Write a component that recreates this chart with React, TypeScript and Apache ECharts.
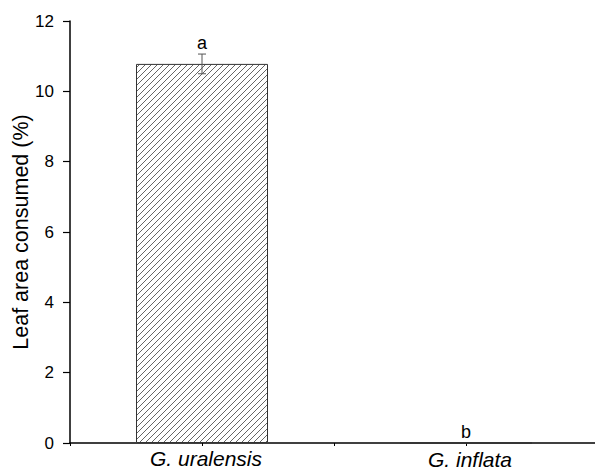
import React, { useEffect, useRef } from "react";
import * as echarts from "echarts";

const categories = ["G. uralensis", "G. inflata"];
const values = [10.78, 0];
const errors = [0.28, 0];
const letters = ["a", "b"];
const yTicks = { min: 0, max: 12, interval: 2 };

function makeHatch(): HTMLCanvasElement {
  const c = document.createElement("canvas");
  const s = 6;
  c.width = s;
  c.height = s;
  const ctx = c.getContext("2d")!;
  ctx.fillStyle = "#ffffff";
  ctx.fillRect(0, 0, s, s);
  ctx.strokeStyle = "#555555";
  ctx.lineWidth = 0.9;
  ctx.beginPath();
  ctx.moveTo(-1, s + 1);
  ctx.lineTo(s + 1, -1);
  ctx.moveTo(-1, 1);
  ctx.lineTo(1, -1);
  ctx.moveTo(s - 1, s + 1);
  ctx.lineTo(s + 1, s - 1);
  ctx.stroke();
  return c;
}

export default function App() {
  const ref = useRef<HTMLDivElement>(null);
  useEffect(() => {
    if (!ref.current) return;
    const chart = echarts.init(ref.current, null, { renderer: "svg" });
    const font = "Liberation Sans, Arial, sans-serif";
    chart.setOption({
      animation: false,
      backgroundColor: "#ffffff",
      grid: { left: 70, right: -3, top: 21, bottom: 29, containLabel: false, outerBoundsMode: "none" },
      xAxis: [
        {
          type: "category",
          data: categories,
          axisLine: { show: true, lineStyle: { color: "#000", width: 1.5 } },
          axisTick: { show: true, inside: false, length: 3, lineStyle: { color: "#000", width: 1 } },
          axisLabel: {
            margin: 4,
            fontFamily: font,
            formatter: (v: string, i: number) => (i === 0 ? `{a|${v}}` : `{b|${v}}`),
            rich: {
              a: { fontSize: 21, lineHeight: 22, fontStyle: "italic", color: "#000", fontFamily: font, padding: [0, 0, 0, 8] },
              b: { fontSize: 21, lineHeight: 22, fontStyle: "italic", color: "#000", fontFamily: font, padding: [3, 0, 0, 8] },
            },
          },
        },
        {
          type: "category",
          data: categories,
          position: "bottom",
          axisLine: { show: false },
          axisTick: { show: true, alignWithLabel: true, length: 3, lineStyle: { color: "#000", width: 1 } },
          axisLabel: { show: false },
        },
      ],
      yAxis: {
        type: "value",
        min: yTicks.min,
        max: yTicks.max,
        interval: yTicks.interval,
        name: "Leaf area consumed (%)",
        nameLocation: "middle",
        nameGap: 38,
        nameMoveOverlap: false,
        nameTextStyle: { fontSize: 21.5, color: "#000", fontFamily: font },
        axisLine: { show: true, lineStyle: { color: "#000", width: 1.5 } },
        axisTick: { show: true, length: 7, lineStyle: { color: "#000", width: 1.2 } },
        axisLabel: { fontSize: 17, color: "#000", margin: 16, fontFamily: font },
        splitLine: { show: false },
      },
      series: [
        {
          type: "bar",
          data: values,
          barWidth: "50%",
          itemStyle: {
            color: { image: makeHatch(), repeat: "repeat" },
            borderColor: "#333",
            borderWidth: 1,
          },
        },
        {
          type: "custom",
          data: values.map((v, i) => [i, v, errors[i]]),
          renderItem: (params: any, api: any) => {
            const i = api.value(0);
            const v = api.value(1);
            const e = api.value(2);
            if (!e) return { type: "group", children: [] };
            const top = api.coord([i, v + e]);
            const bot = api.coord([i, v - e]);
            const hw = 4;
            const st = { stroke: "#555", lineWidth: 1 };
            return {
              type: "group",
              children: [
                { type: "line", shape: { x1: top[0], y1: top[1], x2: bot[0], y2: bot[1] }, style: st },
                { type: "line", shape: { x1: top[0] - hw, y1: top[1], x2: top[0] + hw, y2: top[1] }, style: st },
                { type: "line", shape: { x1: bot[0] - hw, y1: bot[1], x2: bot[0] + hw, y2: bot[1] }, style: st },
              ],
            };
          },
          z: 5,
        },
        {
          type: "custom",
          data: values.map((v, i) => [i, v + errors[i], letters[i]]),
          renderItem: (params: any, api: any) => {
            const i = api.value(0);
            const p = api.coord([i, api.value(1)]);
            return {
              type: "text",
              style: {
                text: letters[i],
                x: p[0],
                y: p[1] - 2,
                align: "center",
                verticalAlign: "bottom",
                fontSize: 18,
                fontFamily: font,
                fill: "#000",
              },
            };
          },
          z: 6,
        },
      ],
    });
    return () => chart.dispose();
  }, []);
  return (
    <div
      ref={ref}
      style={{ position: "fixed", left: 0, top: 0, width: 595, height: 472 }}
    />
  );
}
